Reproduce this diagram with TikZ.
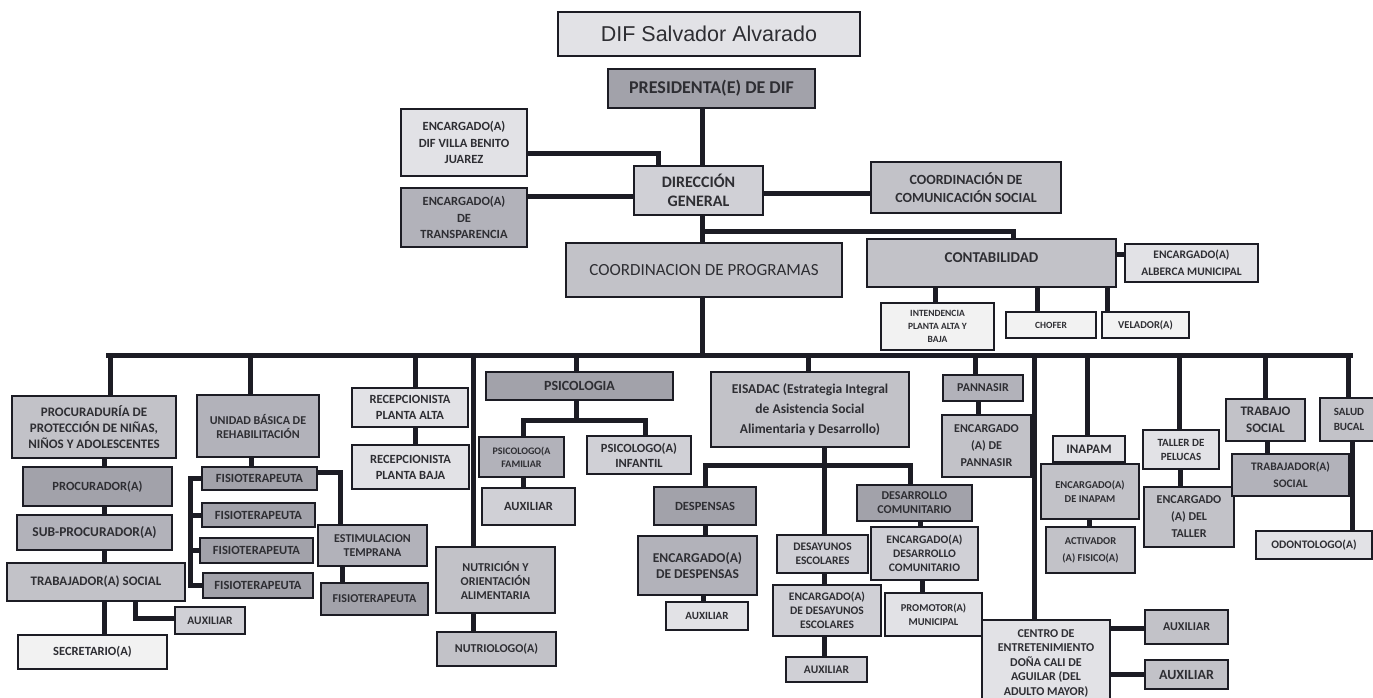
\documentclass[tikz,border=0pt]{standalone}
\usepackage{fontspec}
\setmainfont{Carlito}
\newfontfamily\arialf{Liberation Sans}
\usetikzlibrary{backgrounds}
\definecolor{shA}{HTML}{F2F2F2}
\definecolor{shB}{HTML}{E2E2E6}
\definecolor{shC}{HTML}{D0D0D6}
\definecolor{shD}{HTML}{C2C2C8}
\definecolor{shE}{HTML}{B2B2BA}
\definecolor{shF}{HTML}{A2A2AA}
\definecolor{txt}{HTML}{2E2E33}
\definecolor{linec}{HTML}{1C1C24}
\newcommand\fz[2]{\fontsize{#1}{#2}\selectfont\bfseries}
\newcommand\fr[2]{\fontsize{#1}{#2}\selectfont}
\newcommand\bnode[7]{\node[#2,minimum width={#5-#3},minimum height={#6-#4}] (#1) at ({(#3+#5)/2},{(#4+#6)/2}) {#7};}
\begin{document}
\begin{tikzpicture}[x=1pt,y=-1pt,
  box/.style={draw=linec,line width=1.3pt,inner sep=1pt,outer sep=0pt,align=center,text=txt},
  bA/.style={box,fill=shA},bB/.style={box,fill=shB},bC/.style={box,fill=shC},
  bD/.style={box,fill=shD},bE/.style={box,fill=shE},bF/.style={box,fill=shF},
  conn/.style={draw=linec,line width=5pt,line cap=rect}]
\useasboundingbox (0,0) rectangle (1373,697);
% ---- top
\bnode{title}{bB,font=\arialf\fontsize{21.5}{25}\selectfont}{558}{12}{860}{56}{DIF Salvador Alvarado}
\bnode{pres}{bF,font=\fz{18}{20}}{608}{69}{815}{108}{PRESIDENTA(E) DE DIF}
\bnode{villa}{bB,font=\fz{12.5}{16.5}}{401}{109}{527}{176}{ENCARGADO(A)\\DIF VILLA BENITO\\JUAREZ}
\bnode{dir}{bC,font=\fz{16}{19}}{634}{166}{763}{215}{DIRECCIÓN\\GENERAL}
\bnode{transp}{bE,font=\fz{12.5}{16.5}}{401}{188}{527}{247}{ENCARGADO(A)\\DE\\TRANSPARENCIA}
\bnode{comu}{bD,font=\fz{14}{18}}{871}{162}{1061}{213}{COORDINACIÓN DE\\COMUNICACIÓN SOCIAL}
\bnode{cprog}{bD,font=\fr{17}{20}}{566}{243}{842}{297}{COORDINACION DE PROGRAMAS}
\bnode{conta}{bD,font=\fz{15}{18}}{867}{239}{1116}{287}{\raisebox{11pt}{CONTABILIDAD}}
\bnode{alberca}{bB,font=\fz{11.5}{17}}{1125}{244}{1258}{282}{ENCARGADO(A)\\ALBERCA MUNICIPAL}
\bnode{intend}{bA,font=\fz{9.5}{13}}{881}{303}{994}{350}{INTENDENCIA\\PLANTA ALTA Y\\BAJA}
\bnode{chofer}{bA,font=\fz{9.5}{12}}{1006}{312}{1096}{338}{CHOFER}
\bnode{velador}{bA,font=\fz{10.5}{12}}{1102}{312}{1189}{338}{VELADOR(A)}
% ---- procuraduria
\bnode{procu}{bD,font=\fz{13}{16}}{12}{396}{176}{458}{PROCURADURÍA DE\\PROTECCIÓN DE NIÑAS,\\NIÑOS Y ADOLESCENTES}
\bnode{procur}{bF,font=\fz{12.5}{15}}{23}{467}{172}{506}{PROCURADOR(A)}
\bnode{subp}{bE,font=\fz{13.5}{16}}{17}{515}{172}{550}{SUB-PROCURADOR(A)}
\bnode{trab}{bD,font=\fz{13}{16}}{7}{563}{185}{601}{TRABAJADOR(A) SOCIAL}
\bnode{auxp}{bC,font=\fz{11.5}{12}}{175}{607}{245}{634}{AUXILIAR}
\bnode{secr}{bA,font=\fz{12.5}{15}}{18}{635}{167}{669}{SECRETARIO(A)}
% ---- rehabilitacion
\bnode{ubr}{bE,font=\fz{12}{14}}{197}{395}{319}{457}{UNIDAD BÁSICA DE\\REHABILITACIÓN}
\bnode{fa}{bF,font=\fz{12.5}{14}}{202}{467}{317}{490}{FISIOTERAPEUTA}
\bnode{fb}{bF,font=\fz{12.5}{14}}{202}{503}{315}{527}{FISIOTERAPEUTA}
\bnode{fc}{bF,font=\fz{12.5}{14}}{200}{538}{313}{563}{FISIOTERAPEUTA}
\bnode{fd}{bF,font=\fz{12.5}{14}}{203}{573}{313}{598}{FISIOTERAPEUTA}
\bnode{estim}{bE,font=\fz{12}{14}}{318}{525}{427}{566}{ESTIMULACION\\TEMPRANA}
\bnode{fe}{bF,font=\fz{12}{14}}{321}{583}{428}{615}{FISIOTERAPEUTA}
% ---- recepcion, nutricion
\bnode{recA}{bB,font=\fz{12.5}{16}}{352}{388}{468}{427}{RECEPCIONISTA\\PLANTA ALTA}
\bnode{recB}{bB,font=\fz{12.5}{16}}{352}{445}{469}{489}{RECEPCIONISTA\\PLANTA BAJA}
\bnode{nutri}{bD,font=\fz{12}{14}}{436}{547}{555}{613}{NUTRICIÓN Y\\ORIENTACIÓN\\ALIMENTARIA}
\bnode{nutrio}{bD,font=\fz{12}{14}}{437}{632}{556}{666}{NUTRIOLOGO(A)}
% ---- psicologia
\bnode{psico}{bF,font=\fz{14}{16}}{486}{372}{673}{400}{PSICOLOGIA}
\bnode{psfam}{bE,font=\fz{10}{13}}{479}{437}{564}{477}{PSICOLOGO(A\\FAMILIAR}
\bnode{psinf}{bC,font=\fz{12.5}{15}}{587}{436}{691}{474}{PSICOLOGO(A)\\INFANTIL}
\bnode{auxps}{bC,font=\fz{12.5}{15}}{482}{488}{575}{525}{AUXILIAR}
% ---- eisadac
\bnode{eis}{bD,font=\fz{13.5}{20}}{711}{372}{909}{447}{EISADAC (Estrategia Integral\\de Asistencia Social\\Alimentaria y Desarrollo)}
\bnode{desp}{bF,font=\fz{12.5}{15}}{654}{487}{756}{525}{DESPENSAS}
\bnode{encdesp}{bE,font=\fz{13.5}{16}}{638}{536}{757}{595}{ENCARGADO(A)\\DE DESPENSAS}
\bnode{auxdesp}{bB,font=\fz{11}{13}}{666}{602}{748}{630}{AUXILIAR}
\bnode{desay}{bC,font=\fz{11.5}{14}}{777}{535}{868}{573}{DESAYUNOS\\ESCOLARES}
\bnode{encdesay}{bC,font=\fz{11.5}{14}}{773}{585}{881}{636}{ENCARGADO(A)\\DE DESAYUNOS\\ESCOLARES}
\bnode{auxdesay}{bC,font=\fz{11.5}{14}}{786}{657}{867}{682}{AUXILIAR}
\bnode{desarr}{bF,font=\fz{12}{14}}{857}{485}{972}{521}{DESARROLLO\\COMUNITARIO}
\bnode{encdesarr}{bC,font=\fz{11.5}{14}}{871}{527}{978}{580}{ENCARGADO(A)\\DESARROLLO\\COMUNITARIO}
\bnode{promo}{bB,font=\fz{10.5}{14}}{885}{593}{982}{636}{PROMOTOR(A)\\MUNICIPAL}
% ---- right side
\bnode{pann}{bE,font=\fz{12}{14}}{943}{375}{1023}{401}{PANNASIR}
\bnode{encpann}{bD,font=\fz{12}{17}}{942}{415}{1031}{477}{ENCARGADO\\(A) DE\\PANNASIR}
\bnode{centro}{bB,font=\fz{12}{14.5}}{982}{620}{1110}{706}{CENTRO DE\\ENTRETENIMIENTO\\DOÑA CALI DE\\AGUILAR (DEL\\ADULTO MAYOR)}
\bnode{auxca}{bD,font=\fz{12}{14}}{1145}{610}{1228}{644}{AUXILIAR}
\bnode{auxcb}{bD,font=\fz{14}{16}}{1145}{660}{1228}{689}{AUXILIAR}
\bnode{inapam}{bB,font=\fz{13}{15}}{1053}{436}{1125}{462}{INAPAM}
\bnode{encinap}{bD,font=\fz{10.5}{14}}{1041}{464}{1139}{519}{ENCARGADO(A)\\DE INAPAM}
\bnode{activ}{bD,font=\fz{10.5}{17}}{1046}{527}{1135}{573}{ACTIVADOR\\(A) FISICO(A)}
\bnode{taller}{bB,font=\fz{11}{14}}{1143}{430}{1219}{469}{TALLER DE\\PELUCAS}
\bnode{enctall}{bD,font=\fz{12}{17}}{1144}{487}{1234}{547}{ENCARGADO\\(A) DEL\\TALLER}
\bnode{trabs}{bD,font=\fz{13}{17}}{1226}{399}{1305}{441}{TRABAJO\\SOCIAL}
\bnode{trabaj}{bE,font=\fz{11.5}{17}}{1232}{454}{1349}{496}{TRABAJADOR(A)\\SOCIAL}
\bnode{salud}{bD,font=\fz{11}{15}}{1320}{398}{1378}{441}{SALUD\\BUCAL}
\bnode{odont}{bB,font=\fz{11.5}{14}}{1256}{531}{1372}{559}{ODONTOLOGO(A)}
% ---- rails
\foreach \n in {104,108,110,135,190,250,251,340,342,415,473,523,576,645,658,702,705,703,808,824,910,920,922,935,975,978,1013,1034,1037,1087,1089,1107,1179,1180,1265,1267,1348,1350,1352}
  \coordinate (x\n) at (\n,0);
\foreach \n in {153,193,196,231,254,355,420,465,472,618,628,674}
  \coordinate (y\n) at (0,\n);
\begin{scope}[on background layer]
\fill[white] (0,0) rectangle (1373,697);
% top
\draw[conn] (pres.south -| x702) -- (dir.north -| x702);
\draw[conn] (villa.east |- y153) -| (dir.north -| x658);
\draw[conn] (transp.east |- y196) -- (dir.west |- y196);
\draw[conn] (dir.east |- y193) -- (comu.west |- y193);
\draw[conn] (dir.south -| x702) -- (cprog.north -| x702);
\draw[conn] (x702 |- y231) -| (conta.north -| x1013);
\draw[conn] (cprog.south -| x702) -- (x702 |- y355);
\draw[conn] (conta.east |- y254) -- (alberca.west |- y254);
\draw[conn] (conta.south -| x935) -- (intend.north -| x935);
\draw[conn] (conta.south -| x1037) -- (chofer.north -| x1037);
\draw[conn] (conta.south -| x1107) -- (velador.north -| x1107);
% bus
\draw[conn] (x108 |- y355) -- (x1350 |- y355);
\draw[conn] (x110 |- y355) -- (procu.north -| x110);
\draw[conn] (x250 |- y355) -- (ubr.north -| x250);
\draw[conn] (x415 |- y355) -- (recA.north -| x415);
\draw[conn] (x473 |- y355) -- (nutri.north -| x473);
\draw[conn] (x576 |- y355) -- (psico.north -| x576);
\draw[conn] (x808 |- y355) -- (eis.north -| x808);
\draw[conn] (x975 |- y355) -- (pann.north -| x975);
\draw[conn] (x1034 |- y355) -- (centro.north -| x1034);
\draw[conn] (x1087 |- y355) -- (inapam.north -| x1087);
\draw[conn] (x1179 |- y355) -- (taller.north -| x1179);
\draw[conn] (x1265 |- y355) -- (trabs.north -| x1265);
\draw[conn] (x1348 |- y355) -- (salud.north -| x1348);
% procuraduria column
\draw[conn] (procu.south -| x104) -- (procur.north -| x104);
\draw[conn] (procur.south -| x104) -- (subp.north -| x104);
\draw[conn] (subp.south -| x104) -- (trab.north -| x104);
\draw[conn] (trab.south -| x104) -- (secr.north -| x104);
\draw[conn] (trab.south -| x135) |- (auxp.west |- y618);
% rehabilitacion
\draw[conn] (ubr.south -| x251) -- (fa.north -| x251);
\draw[conn] (fa.west) -| (fd.west -| x190) -- (fd.west);
\draw[conn] (fb.west -| x190) -- (fb.west);
\draw[conn] (fc.west -| x190) -- (fc.west);
\draw[conn] (fa.east |- y472) -| (estim.north -| x340);
\draw[conn] (estim.south -| x342) -- (fe.north -| x342);
% recepcion, nutricion
\draw[conn] (recA.south -| x415) -- (recB.north -| x415);
\draw[conn] (nutri.south -| x473) -- (nutrio.north -| x473);
% psicologia
\draw[conn] (psico.south -| x576) -- (x576 |- y420);
\draw[conn] (psfam.north -| x523) |- (x645 |- y420) -- (psinf.north -| x645);
\draw[conn] (psfam.south -| x523) -- (auxps.north -| x523);
% eisadac
\draw[conn] (eis.south -| x824) -- (desay.north -| x824);
\draw[conn] (desp.north -| x705) |- (x910 |- y465) -- (desarr.north -| x910);
\draw[conn] (desp.south -| x705) -- (encdesp.north -| x705);
\draw[conn] (encdesp.south -| x703) -- (auxdesp.north -| x703);
\draw[conn] (desay.south -| x824) -- (encdesay.north -| x824);
\draw[conn] (encdesay.south -| x824) -- (auxdesay.north -| x824);
\draw[conn] (desarr.south -| x920) -- (encdesarr.north -| x920);
\draw[conn] (encdesarr.south -| x922) -- (promo.north -| x922);
% right side
\draw[conn] (pann.south -| x978) -- (encpann.north -| x978);
\draw[conn] (centro.east |- y628) -- (auxca.west |- y628);
\draw[conn] (centro.east |- y674) -- (auxcb.west |- y674);
\draw[conn] (inapam.south -| x1087) -- (encinap.north -| x1087);
\draw[conn] (encinap.south -| x1089) -- (activ.north -| x1089);
\draw[conn] (taller.south -| x1180) -- (enctall.north -| x1180);
\draw[conn] (trabs.south -| x1267) -- (trabaj.north -| x1267);
\draw[conn] (salud.south -| x1352) -- (odont.north -| x1352);
\end{scope}
\end{tikzpicture}
\end{document}
